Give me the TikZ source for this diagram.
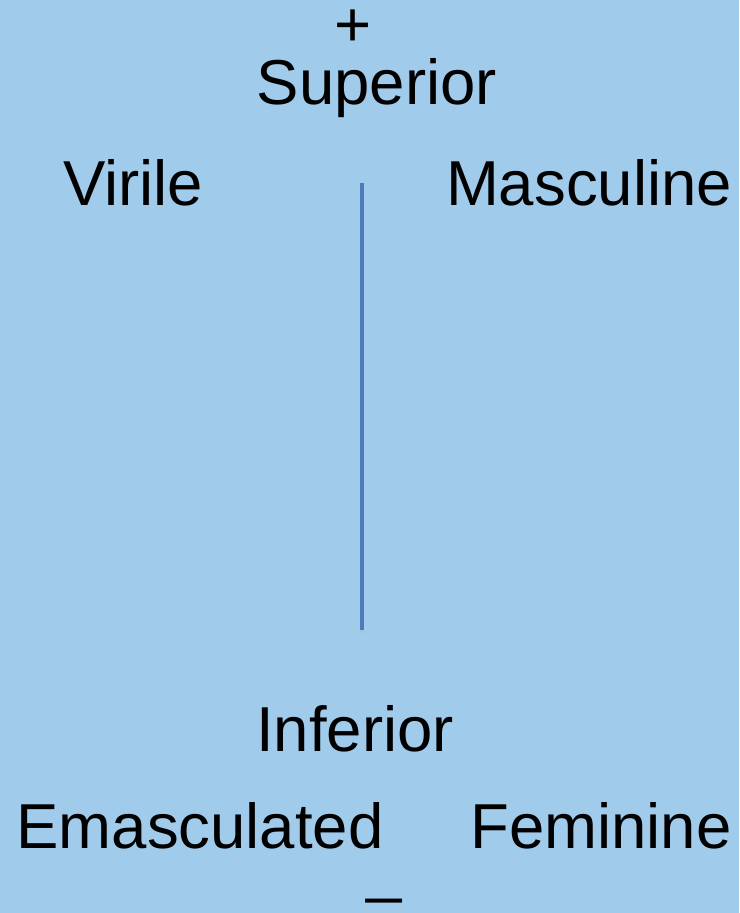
\documentclass[tikz,border=0pt]{standalone}
\usepackage{fontspec}
\setmainfont{Liberation Sans}
\definecolor{bg}{RGB}{161,203,235}
\definecolor{axis}{RGB}{76,124,190}
\begin{document}
\begin{tikzpicture}[x=1pt,y=1pt,
  lbl/.style={anchor=base,inner sep=0pt,font=\fontsize{63.5}{63.5}\selectfont,text=black}]
\fill[bg] (0,0) rectangle (739,-913);
\useasboundingbox (0,0) rectangle (739,-913);
\node[lbl,text height=35pt] (plus) at (353,-46) {+};
\node[lbl] (sup) at (377,-104) {Superior};
\node[lbl] (vir) at (133,-205) {Virile};
\node[lbl] (mas) at (589,-205) {Masculine};
\node[lbl] (inf) at (355,-751) {Inferior};
\node[lbl] (ema) at (200,-848) {Emasculated};
\node[lbl] (fem) at (601,-848) {Feminine};
\node[lbl,text height=0pt] (minus) at (384,-890) {\_};
\coordinate (top) at (362,-183);
\coordinate (bot) at (362,-630);
\draw[line width=4pt,draw=black!30,opacity=0.25] ([yshift=-2pt]top) -- ([yshift=-3pt]bot);
\draw[axis,line width=4pt] (top) -- (bot);
\end{tikzpicture}
\end{document}
